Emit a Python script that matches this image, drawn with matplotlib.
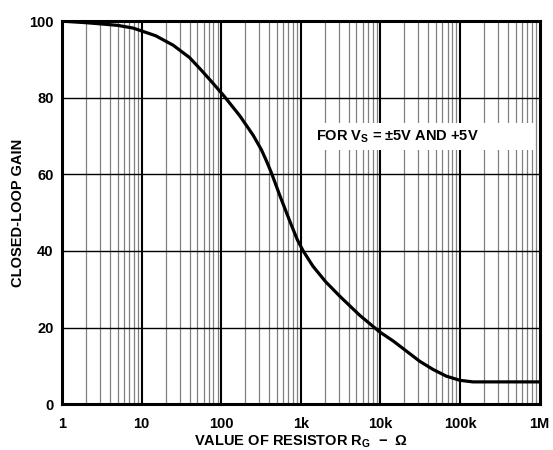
import numpy as np
import matplotlib.pyplot as plt
from matplotlib.patches import Rectangle
from matplotlib.ticker import FixedLocator, NullFormatter

plt.rcParams['font.family'] = ['Liberation Sans', 'DejaVu Sans']
plt.rcParams['font.weight'] = 'bold'
plt.rcParams['mathtext.fontset'] = 'custom'
plt.rcParams['mathtext.rm'] = 'Liberation Sans:bold'
plt.rcParams['mathtext.bf'] = 'Liberation Sans:bold'
plt.rcParams['mathtext.it'] = 'Liberation Sans:bold'

# Gain vs gain-setting resistor
r_gain = [1, 2, 3, 5, 7.8, 9.5, 15, 25, 40, 54, 75, 108, 171, 252, 320, 370,
          427, 544, 726, 900, 1070, 1420, 2040, 3075, 5480, 9700, 14400, 21000,
          31000, 45700, 67000, 100000, 145000, 300000, 1000000]
gain = [100, 99.6, 99.3, 98.9, 98.2, 97.6, 96.2, 93.7, 90.5, 87.6, 84.3, 80.5,
        75.3, 70.2, 66.4, 63.5, 60.4, 54.5, 47.8, 43, 40, 36, 32, 28.2, 23.2,
        18.9, 16.5, 13.9, 11.2, 9.05, 7.3, 6.2, 5.8, 5.8, 5.8]

x_ticks = [1, 10, 100, 1e3, 1e4, 1e5, 1e6]
x_labels = ['1', '10', '100', '1k', '10k', '100k', '1M']
y_ticks = [0, 20, 40, 60, 80, 100]

fig = plt.figure(figsize=(5.53, 4.5), dpi=100)
ax = fig.add_axes([0.112, 0.102, 0.864, 0.851])
ax.set_xscale('log')
ax.set_xlim(1, 1e6)
ax.set_ylim(0, 100)

# grid: grey minor decades, black majors
minors = [m * 10**d for d in range(6) for m in range(2, 10)]
for xv in minors:
    ax.axvline(xv, color='#808080', lw=0.9, zorder=1)
for xv in x_ticks[1:-1]:
    ax.axvline(xv, color='black', lw=1.5, zorder=1)
for yv in y_ticks[1:-1]:
    ax.axhline(yv, color='black', lw=1.0, zorder=1)

ax.plot(r_gain, gain, color='black', lw=2.3, zorder=3, solid_capstyle='butt')

ax.xaxis.set_major_locator(FixedLocator(x_ticks))
ax.xaxis.set_minor_locator(FixedLocator(minors))
ax.xaxis.set_minor_formatter(NullFormatter())
ax.set_xticklabels(x_labels)
ax.set_yticks(y_ticks)
ax.tick_params(which='both', length=0, labelsize=10.5)
ax.tick_params(axis='x', pad=9)
ax.tick_params(axis='y', pad=6)

for s in ax.spines.values():
    s.set_linewidth(2.2)
    s.set_zorder(4)

ax.set_xlabel(r'VALUE OF RESISTOR R$_{G}$  $-$  Ω', fontsize=10.5, fontweight='bold', labelpad=2)
ax.set_ylabel('CLOSED-LOOP GAIN', fontsize=10.5, fontweight='bold', labelpad=3)

# white label box over the grid
ax.add_patch(Rectangle((0.515, 0.663), 0.475, 0.071, transform=ax.transAxes,
                       facecolor='white', edgecolor='none', zorder=2))
ax.text(0.531, 0.698, r'FOR V$_{S}$ = ±5V AND +5V', fontsize=10.5, fontweight='bold',
        ha='left', va='center', zorder=5, transform=ax.transAxes)

fig.savefig('out.png', dpi=100)
